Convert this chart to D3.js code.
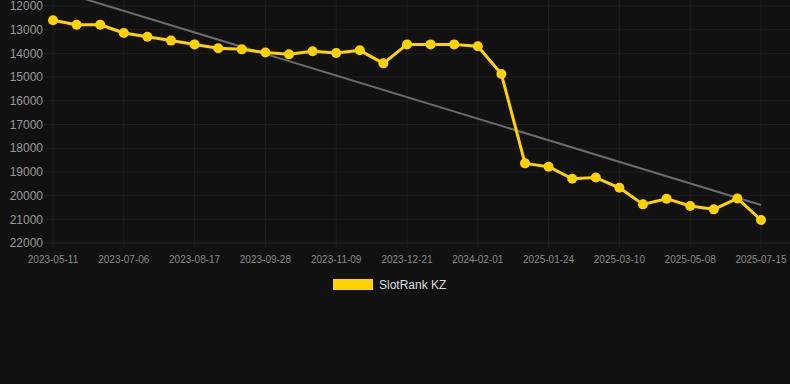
<!DOCTYPE html>
<html><head><meta charset="utf-8">
<script src="https://cdn.jsdelivr.net/npm/d3@7"></script>
<style>html,body{margin:0;padding:0;background:#111;}svg{display:block;}</style>
</head><body>
<script>
const dates = ["2023-05-11","2023-05-25","2023-06-08","2023-07-06","2023-07-20","2023-08-03","2023-08-17","2023-08-31","2023-09-14","2023-09-28","2023-10-12","2023-10-26","2023-11-09","2023-11-23","2023-12-07","2023-12-21","2024-01-04","2024-01-18","2024-02-01","2024-02-15","2025-01-10","2025-01-24","2025-02-07","2025-02-21","2025-03-10","2025-03-24","2025-04-07","2025-05-08","2025-05-22","2025-06-05","2025-07-15"];
const ranks = [12600,12790,12790,13140,13300,13460,13620,13780,13830,13960,14040,13910,13980,13870,14420,13620,13620,13620,13700,14870,18640,18780,19290,19240,19670,20370,20130,20440,20580,20120,21030];
const yTicks = [12000,13000,14000,15000,16000,17000,18000,19000,20000,21000,22000];
const seriesName = "SlotRank KZ";

const W = 790, H = 384;
const svg = d3.select("body").append("svg").attr("width", W).attr("height", H);
svg.append("rect").attr("width", W).attr("height", H).attr("fill", "#111");

const x = d3.scalePoint().domain(d3.range(dates.length)).range([53, 761]);
const y = d3.scaleLinear().domain([12000, 22000]).range([6, 243]);

// grid
const g = svg.append("g");
g.selectAll("line.h").data(yTicks).join("line")
  .attr("x1", 45).attr("x2", W).attr("y1", d => y(d)).attr("y2", d => y(d))
  .attr("stroke", d => d === 22000 ? "#2a2a2a" : "#1f1f1f").attr("stroke-width", 1);
const xTickIdx = d3.range(0, dates.length, 3);
g.selectAll("line.v").data(xTickIdx).join("line")
  .attr("x1", d => x(d)).attr("x2", d => x(d)).attr("y1", 0).attr("y2", 248)
  .attr("stroke", "#1f1f1f").attr("stroke-width", 1);

// y labels
svg.append("g").selectAll("text").data(yTicks).join("text")
  .attr("x", 43).attr("y", d => y(d)).attr("dy", "0.35em")
  .attr("text-anchor", "end").attr("fill", "#9a9a9a")
  .attr("font-family", "Helvetica, Arial, 'Liberation Sans', sans-serif").attr("font-size", 12)
  .text(d => d);

// x labels
svg.append("g").selectAll("text").data(xTickIdx).join("text")
  .attr("x", d => x(d)).attr("y", 263)
  .attr("text-anchor", "middle").attr("fill", "#8a8a8a")
  .attr("font-family", "Helvetica, Arial, 'Liberation Sans', sans-serif").attr("font-size", 10)
  .text(d => dates[d]);

// trend line (linear regression)
const n = ranks.length;
const mx = d3.mean(d3.range(n)), my = d3.mean(ranks);
let num = 0, den = 0;
for (let i = 0; i < n; i++) { num += (i - mx) * (ranks[i] - my); den += (i - mx) ** 2; }
const slope = num / den, icpt = my - slope * mx;
svg.append("line")
  .attr("x1", x(0)).attr("y1", y(icpt))
  .attr("x2", x(n - 1)).attr("y2", y(icpt + slope * (n - 1)))
  .attr("stroke", "#6b6b6b").attr("stroke-width", 2);

// series
const line = d3.line().x((d, i) => x(i)).y(d => y(d));
svg.append("path").datum(ranks).attr("d", line)
  .attr("fill", "none").attr("stroke", "#FFD200").attr("stroke-width", 3).attr("stroke-linejoin", "round");
svg.append("g").selectAll("circle").data(ranks).join("circle")
  .attr("cx", (d, i) => x(i)).attr("cy", d => y(d)).attr("r", 5)
  .attr("fill", "#FFD200");

// legend
svg.append("rect").attr("x", 333).attr("y", 279).attr("width", 40).attr("height", 11).attr("fill", "#FFD200");
svg.append("text").attr("x", 379).attr("y", 285).attr("dy", "0.35em")
  .attr("fill", "#dddddd").attr("font-family", "Helvetica, Arial, 'Liberation Sans', sans-serif").attr("font-size", 12)
  .text(seriesName);
</script>
</body></html>
